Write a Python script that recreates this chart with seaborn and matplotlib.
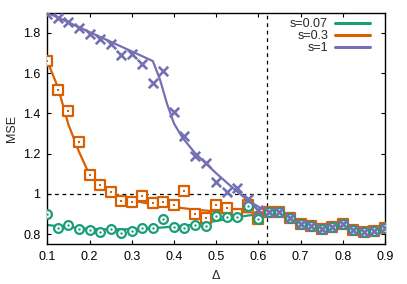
import matplotlib
matplotlib.use("Agg")
import matplotlib.pyplot as plt
import seaborn as sns
import pandas as pd

# ---- data -------------------------------------------------------------
delta = [0.100, 0.125, 0.150, 0.175, 0.200, 0.225, 0.250, 0.275, 0.300, 0.325,
         0.350, 0.375, 0.400, 0.425, 0.450, 0.475, 0.500, 0.525, 0.550, 0.575,
         0.600, 0.625, 0.650, 0.675, 0.700, 0.725, 0.750, 0.775, 0.800, 0.825,
         0.850, 0.875, 0.900]

mse_s007 = [0.900, 0.830, 0.845, 0.825, 0.820, 0.812, 0.825, 0.808, 0.818, 0.830,
            0.832, 0.876, 0.835, 0.832, 0.846, 0.840, 0.892, 0.885, 0.888, 0.940,
            0.878, 0.910, 0.910, 0.880, 0.852, 0.840, 0.825, 0.835, 0.850, 0.823,
            0.810, 0.817, 0.830]

mse_s03 = [1.662, 1.518, 1.413, 1.258, 1.095, 1.045, 1.009, 0.967, 0.959, 0.990,
           0.955, 0.960, 0.946, 1.017, 0.898, 0.882, 0.943, 0.932, 0.900, 0.945,
           0.878, 0.912, 0.910, 0.880, 0.852, 0.840, 0.825, 0.835, 0.850, 0.823,
           0.810, 0.817, 0.830]

mse_s1 = [1.895, 1.875, 1.854, 1.822, 1.792, 1.767, 1.744, 1.692, 1.696, 1.647,
          1.551, 1.612, 1.408, 1.286, 1.186, 1.153, 1.060, 1.010, 1.029, 0.976,
          0.920, 0.912, 0.910, 0.880, 0.852, 0.840, 0.825, 0.835, 0.850, 0.823,
          0.810, 0.817, 0.830]

# fitted curves
fit_x_007 = [0.10, 0.125, 0.15, 0.20, 0.25, 0.30, 0.35, 0.40, 0.45, 0.50, 0.55,
             0.60, 0.62, 0.65, 0.675, 0.70, 0.725, 0.75, 0.80, 0.85, 0.90]
fit_s007 = [0.846, 0.840, 0.835, 0.827, 0.824, 0.825, 0.830, 0.838, 0.848, 0.866,
            0.885, 0.900, 0.910, 0.905, 0.882, 0.860, 0.845, 0.838, 0.835, 0.822, 0.826]

fit_x_03 = [0.10, 0.125, 0.15, 0.175, 0.20, 0.225, 0.25, 0.275, 0.30, 0.35, 0.40,
            0.45, 0.50, 0.55, 0.60, 0.62, 0.65, 0.675, 0.70, 0.725, 0.75, 0.80, 0.85, 0.90]
fit_s03 = [1.660, 1.530, 1.345, 1.210, 1.095, 1.045, 1.010, 0.985, 0.968, 0.948, 0.935,
           0.922, 0.913, 0.910, 0.908, 0.910, 0.905, 0.882, 0.860, 0.845, 0.838, 0.835, 0.822, 0.826]

fit_x_1 = [0.10, 0.15, 0.20, 0.25, 0.30, 0.35, 0.367, 0.383, 0.40, 0.42, 0.45, 0.50,
           0.54, 0.575, 0.62, 0.65, 0.675, 0.70, 0.725, 0.75, 0.80, 0.85, 0.90]
fit_s1 = [1.900, 1.852, 1.804, 1.756, 1.708, 1.660, 1.568, 1.452, 1.350, 1.280, 1.203,
          1.103, 1.029, 0.968, 0.912, 0.905, 0.882, 0.860, 0.845, 0.838, 0.835, 0.822, 0.826]

labels = ["s=0.07", "s=0.3", "s=1"]
colors = ["#1b9e77", "#d95f02", "#7570b3"]
x_ticks = [0.1, 0.2, 0.3, 0.4, 0.5, 0.6, 0.7, 0.8, 0.9]
x_ticklabels = ["0.1", "0.2", "0.3", "0.4", "0.5", "0.6", "0.7", "0.8", "0.9"]
y_ticks = [0.8, 1.0, 1.2, 1.4, 1.6, 1.8]
y_ticklabels = ["0.8", "1", "1.2", "1.4", "1.6", "1.8"]
delta_c = 0.62
mse_ref = 1.0

# ---- style --------------------------------------------------------------
sns.set_style("ticks")
plt.rcParams["font.family"] = ["Liberation Sans", "DejaVu Sans"]
plt.rcParams["font.size"] = 9

W, H = 407, 284
fig = plt.figure(figsize=(W / 100, H / 100), dpi=100)
ax = fig.add_axes([47.3 / W, 1 - 244.3 / H, (385 - 47.3) / W, (244.3 - 12.7) / H])

# ---- fitted lines -------------------------------------------------------
fits = [(fit_x_007, fit_s007), (fit_x_03, fit_s03), (fit_x_1, fit_s1)]
for (fx, fy), lab, col in zip(fits, labels, colors):
    df = pd.DataFrame({"x": fx, "y": fy})
    sns.lineplot(data=df, x="x", y="y", ax=ax, color=col, lw=1.6,
                 label=lab, zorder=2, sort=False)

# ---- points -------------------------------------------------------------
pts = pd.DataFrame({"x": delta, "s007": mse_s007, "s03": mse_s03, "s1": mse_s1})

# s=0.3 : open squares with a dot
sns.scatterplot(data=pts, x="x", y="s03", ax=ax, marker="s", s=42,
                facecolor="white", edgecolor=colors[1], linewidth=1.6, zorder=3,
                legend=False)
sns.scatterplot(data=pts, x="x", y="s03", ax=ax, marker="s", s=3,
                color=colors[1], linewidth=0, zorder=3.1, legend=False)
# s=0.07 : open circles with a dot
sns.scatterplot(data=pts, x="x", y="s007", ax=ax, marker="o", s=40,
                facecolor="white", edgecolor=colors[0], linewidth=1.6, zorder=4,
                legend=False)
sns.scatterplot(data=pts, x="x", y="s007", ax=ax, marker="o", s=3,
                color=colors[0], linewidth=0, zorder=4.1, legend=False)
# s=1 : crosses
sns.scatterplot(data=pts, x="x", y="s1", ax=ax, marker="x", s=46,
                color=colors[2], linewidth=1.9, zorder=5, legend=False)

# ---- reference lines ---------------------------------------------------
ax.axhline(mse_ref, color="black", lw=0.9, ls=(0, (3, 3)), zorder=1)
ax.axvline(delta_c, color="black", lw=0.9, ls=(0, (3, 3)), zorder=1)

# ---- axes ---------------------------------------------------------------
ax.set_xlim(0.1, 0.9)
ax.set_ylim(0.75, 1.9)
ax.set_xticks(x_ticks)
ax.set_xticklabels(x_ticklabels)
ax.set_yticks(y_ticks)
ax.set_yticklabels(y_ticklabels)
ax.tick_params(direction="in", top=True, right=True, length=3, width=0.8,
               labelsize=9, colors="black", pad=5)
for sp in ax.spines.values():
    sp.set_visible(True)
    sp.set_linewidth(1.0)
    sp.set_color("black")

ax.set_xlabel("Δ", fontsize=9)
ax.set_ylabel("MSE", fontsize=9)
ax.xaxis.set_label_coords(0.5, -0.11)
ax.yaxis.set_label_coords(-0.088, 0.5)

leg = ax.legend(loc="upper right", frameon=False, markerfirst=False,
                handlelength=2.8, handletextpad=0.55, labelspacing=0.0,
                fontsize=9, borderaxespad=0.0, borderpad=0.0,
                bbox_to_anchor=(370 / W, 1 - 18 / H),
                bbox_transform=fig.transFigure)
for t in leg.get_texts():
    t.set_ha("right")
for ln in leg.get_lines():
    ln.set_linewidth(2.2)

fig.savefig("out.png", dpi=100)
